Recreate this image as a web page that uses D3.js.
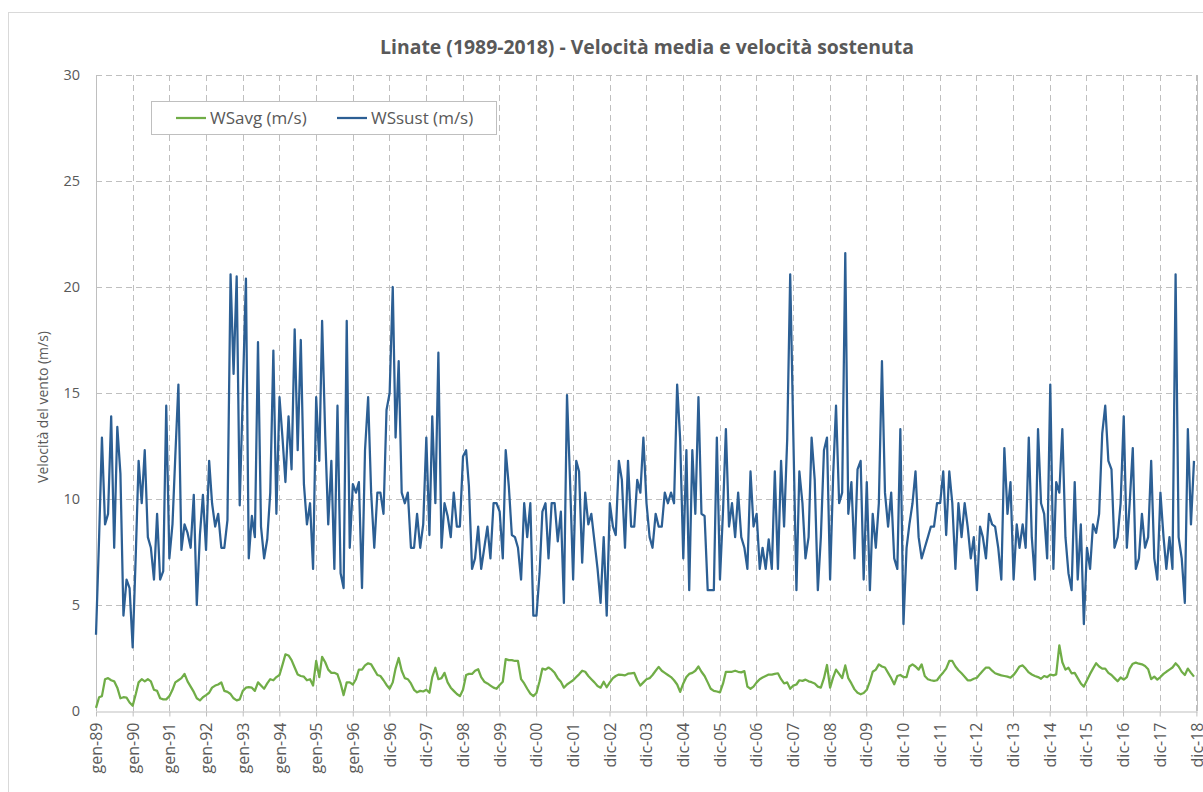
<!DOCTYPE html>
<html>
<head>
<meta charset="utf-8">
<script src="https://cdn.jsdelivr.net/npm/d3@7/dist/d3.min.js"></script>
<style>
  body { margin: 0; background: #fff; }
  svg { display: block; font-family: "Open Sans", Lato, sans-serif; }
</style>
</head>
<body>
<svg id="chart" width="1203" height="792"></svg>
<script>
// ---- DATA ----
const title = "Linate (1989-2018) - Velocità media e velocità sostenuta";
const yTitle = "Velocità del vento (m/s)";
const seriesNames = ["WSavg (m/s)", "WSsust (m/s)"];
const startYear = 1989;
const yTicks = [0, 5, 10, 15, 20, 25, 30];
const xTickLabels = ["gen-89","gen-90","gen-91","gen-92","gen-93","gen-94","gen-95","gen-96",
  "dic-96","dic-97","dic-98","dic-99","dic-00","dic-01","dic-02","dic-03","dic-04","dic-05",
  "dic-06","dic-07","dic-08","dic-09","dic-10","dic-11","dic-12","dic-13","dic-14","dic-15",
  "dic-16","dic-17","dic-18"];

// monthly sustained wind speed (m/s), Jan 1989 .. Dec 2018
const wsSust = [
 3.6,8.2,12.9,8.8,9.3,13.9,7.7,13.4,11.2,4.5,6.2,5.8,
 3.0,7.4,11.8,9.8,12.3,8.2,7.7,6.2,9.3,6.2,6.6,14.4,
 7.2,8.8,12.0,15.4,7.6,8.8,8.4,7.7,10.2,5.0,8.3,10.2,
 7.6,11.8,9.8,8.7,9.3,7.7,7.7,9.0,20.6,15.9,20.5,9.7,
 15.0,20.4,7.2,9.2,8.2,17.4,8.7,7.2,8.1,10.3,17.0,9.3,
 14.8,12.8,10.8,13.9,11.4,18.0,12.3,17.5,10.7,8.8,9.8,6.7,
 14.8,11.8,18.4,13.0,8.8,11.8,6.7,14.4,6.5,5.8,18.4,7.7,
 10.7,10.3,10.8,5.8,12.3,14.8,10.3,7.7,10.3,10.3,9.3,14.2,
 15.0,20.0,12.9,16.5,10.3,9.8,10.3,7.7,7.7,9.3,7.7,8.8,
 12.9,8.3,13.9,9.8,16.9,7.7,9.8,9.2,8.2,10.3,8.7,8.7,
 12.0,12.3,10.6,6.7,7.2,8.7,6.7,7.7,8.7,7.2,9.8,9.8,
 9.4,7.2,12.3,10.6,8.3,8.2,7.7,6.2,9.8,8.2,9.8,4.5,
 4.5,6.5,9.4,9.8,7.2,9.8,9.8,8.0,9.4,5.1,14.9,10.9,
 6.2,11.8,11.3,7.0,10.3,8.8,9.3,8.0,6.7,5.1,8.2,4.5,
 9.8,8.7,8.3,11.8,10.9,7.7,11.8,8.7,8.7,10.9,10.3,12.9,
 9.8,8.2,7.7,9.3,8.7,8.7,10.3,9.8,10.3,9.8,15.4,12.8,
 7.2,12.3,5.7,12.3,9.3,14.8,9.3,9.2,5.7,5.7,5.7,12.9,
 6.2,9.5,13.3,8.7,9.8,8.2,10.3,8.2,7.7,6.7,11.3,8.7,
 9.3,6.7,7.7,6.7,8.1,6.7,11.3,6.7,11.8,8.7,12.8,20.6,
 13.0,5.7,11.3,9.8,7.2,8.2,12.9,10.9,5.7,8.2,12.3,12.9,
 6.2,11.2,14.4,9.8,10.3,21.6,9.3,10.8,7.2,11.4,11.8,6.2,
 10.8,5.7,9.3,7.7,9.8,16.5,10.3,8.7,10.3,7.2,6.7,13.3,
 4.1,7.7,8.8,9.8,11.3,8.2,7.2,7.7,8.2,8.7,8.7,9.8,
 9.8,11.3,8.3,11.3,9.8,6.7,9.8,8.2,9.8,8.7,7.2,8.2,
 5.7,8.7,8.2,7.2,9.3,8.8,8.7,7.7,6.2,12.4,9.3,10.8,
 6.2,8.8,7.7,8.8,7.7,12.9,8.2,6.2,13.3,9.8,9.3,7.2,
 15.4,6.7,10.8,10.3,13.3,8.2,6.5,5.7,10.8,6.2,8.8,4.1,
 7.7,6.7,8.8,8.4,9.3,13.1,14.4,11.8,11.4,7.7,8.2,9.8,
 13.9,7.7,9.8,12.4,6.7,7.2,9.3,7.7,8.2,11.8,7.2,6.2,
 10.3,8.2,6.7,8.2,6.7,20.6,8.2,7.2,5.1,13.3,8.8,11.8
];

// monthly average wind speed (m/s), Jan 1989 .. Dec 2018
const wsAvg = [
 0.15,0.65,0.7,1.5,1.55,1.45,1.4,1.1,0.6,0.65,0.63,0.4,
 0.25,0.8,1.35,1.5,1.4,1.5,1.4,1.0,0.95,0.6,0.55,0.55,
 0.7,1.0,1.35,1.45,1.55,1.75,1.4,1.15,0.9,0.6,0.5,0.65,
 0.75,0.86,1.1,1.2,1.25,1.35,0.95,0.9,0.8,0.6,0.5,0.55,
 0.95,1.1,1.13,1.1,0.95,1.35,1.2,1.05,1.3,1.5,1.45,1.6,
 1.7,2.2,2.67,2.62,2.4,2.05,1.72,1.65,1.62,1.45,1.5,1.2,
 2.36,1.6,2.55,2.3,1.95,1.8,1.8,1.73,1.3,0.75,1.35,1.35,
 1.25,1.5,1.95,1.95,2.15,2.25,2.2,1.95,1.7,1.65,1.45,1.23,
 1.05,1.35,2.0,2.5,1.9,1.55,1.5,1.3,1.0,0.88,0.95,0.92,
 1.0,0.86,1.6,2.04,1.5,1.55,1.8,1.35,1.1,0.95,0.8,0.7,
 1.0,1.7,1.75,1.75,1.9,1.97,1.6,1.38,1.3,1.2,1.1,1.05,
 1.23,1.38,2.45,2.4,2.4,2.36,2.36,1.5,1.3,1.05,0.82,0.7,
 0.85,1.4,2.0,1.95,2.05,1.95,1.8,1.55,1.38,1.1,1.25,1.35,
 1.45,1.6,1.73,1.9,1.85,1.65,1.5,1.35,1.18,1.1,1.38,1.12,
 1.35,1.55,1.65,1.72,1.7,1.68,1.76,1.78,1.8,1.45,1.2,1.35,
 1.5,1.55,1.7,1.9,2.08,1.9,1.8,1.7,1.6,1.45,1.25,0.9,
 1.3,1.6,1.75,1.8,1.9,2.1,1.85,1.65,1.35,1.05,0.95,0.92,
 0.88,1.3,1.85,1.85,1.85,1.9,1.85,1.82,1.88,1.15,1.05,1.15,
 1.35,1.5,1.58,1.65,1.72,1.72,1.75,1.78,1.5,1.3,1.35,1.05,
 1.2,1.25,1.45,1.42,1.48,1.4,1.36,1.3,1.15,1.1,1.55,2.17,
 1.1,1.6,1.95,1.75,1.55,2.15,1.55,1.3,1.02,0.86,0.79,0.85,
 1.0,1.4,1.85,1.95,2.2,2.1,2.05,1.8,1.55,1.26,1.65,1.7,
 1.6,1.6,2.1,2.2,2.1,1.95,2.2,1.65,1.5,1.45,1.42,1.45,
 1.65,1.82,2.0,2.36,2.36,2.1,1.92,1.78,1.62,1.45,1.45,1.52,
 1.57,1.75,1.9,2.05,2.05,1.9,1.78,1.73,1.68,1.65,1.62,1.57,
 1.7,1.9,2.1,2.15,2.0,1.82,1.72,1.65,1.6,1.52,1.65,1.6,
 1.72,1.68,1.73,3.1,2.3,1.95,2.04,1.78,1.8,1.55,1.3,1.15,
 1.45,1.75,2.0,2.25,2.1,2.0,2.0,1.8,1.7,1.55,1.4,1.58,
 1.48,1.6,2.0,2.23,2.28,2.23,2.2,2.12,1.97,1.5,1.62,1.48,
 1.6,1.75,1.85,1.95,2.05,2.25,2.1,1.85,1.7,2.0,1.8,1.62
];

const colors = { avg: "#70ad47", sust: "#2c5f94" };

// ---- LAYOUT ----
const plot = { left: 96, right: 1197, top: 75, bottom: 711 };
const textColor = "#595959";

const svg = d3.select("#chart");

// outer chart border
svg.append("rect").attr("x", 8.5).attr("y", 12.5).attr("width", 1210).attr("height", 800)
  .attr("fill", "#fff").attr("stroke", "#d9d9d9").attr("stroke-width", 1);

const start = new Date(Date.UTC(startYear, 0, 1));
const end = new Date(Date.UTC(startYear + 29, 11, 31));
const dates = wsSust.map((_, i) => new Date(Date.UTC(startYear, i, 1)));
const tickDates = xTickLabels.map((_, k) => d3.utcDay.offset(start, 365 * k));

const x = d3.scaleUtc().domain([start, end]).range([plot.left, plot.right]);
const y = d3.scaleLinear().domain([0, 30]).range([plot.bottom, plot.top]);

// horizontal gridlines
svg.append("g").selectAll("line").data(yTicks.filter(d => d > 0)).join("line")
  .attr("x1", plot.left).attr("x2", plot.right)
  .attr("y1", d => Math.round(y(d)) + 0.5).attr("y2", d => Math.round(y(d)) + 0.5)
  .attr("stroke", "#bfbfbf").attr("stroke-width", 1).attr("stroke-dasharray", "6,4");

// vertical gridlines
svg.append("g").selectAll("line").data(tickDates.slice(1)).join("line")
  .attr("x1", d => Math.round(x(d)) + 0.5).attr("x2", d => Math.round(x(d)) + 0.5)
  .attr("y1", plot.top).attr("y2", plot.bottom)
  .attr("stroke", "#bfbfbf").attr("stroke-width", 1).attr("stroke-dasharray", "6,4");

// plot border (left/right)
svg.append("line").attr("x1", plot.left + 0.5).attr("x2", plot.left + 0.5)
  .attr("y1", plot.top).attr("y2", plot.bottom).attr("stroke", "#bfbfbf");
svg.append("line").attr("x1", plot.right + 0.5).attr("x2", plot.right + 0.5)
  .attr("y1", plot.top).attr("y2", plot.bottom).attr("stroke", "#bfbfbf");

// y axis labels
svg.append("g").selectAll("text").data(yTicks).join("text")
  .attr("x", 80).attr("y", d => y(d)).attr("dy", "0.35em")
  .attr("text-anchor", "end").attr("font-size", 14.5).attr("fill", textColor)
  .text(d => d);

// x axis
const xAxis = d3.axisBottom(x).tickValues(tickDates)
  .tickFormat((d, i) => xTickLabels[i]).tickSize(5).tickSizeOuter(0);
const gx = svg.append("g").attr("transform", `translate(0,${plot.bottom + 0.5})`).call(xAxis);
gx.select(".domain").attr("stroke", "#bfbfbf");
gx.selectAll(".tick line").attr("stroke", "#bfbfbf");
gx.selectAll(".tick text")
  .attr("font-family", "'Open Sans', sans-serif").attr("font-size", 16).attr("fill", textColor)
  .attr("text-anchor", "end")
  .attr("transform", "rotate(-90)")
  .attr("x", -11).attr("y", 0).attr("dy", "0.35em");

// lines
const lineGen = vals => d3.line().x((d, i) => x(dates[i])).y(d => y(d))(vals);
svg.append("path").attr("d", lineGen(wsAvg)).attr("fill", "none")
  .attr("stroke", colors.avg).attr("stroke-width", 2.25).attr("stroke-linejoin", "round");
svg.append("path").attr("d", lineGen(wsSust)).attr("fill", "none")
  .attr("stroke", colors.sust).attr("stroke-width", 2.25).attr("stroke-linejoin", "round");

// title
svg.append("text").attr("x", 647).attr("y", 54).attr("text-anchor", "middle")
  .attr("font-size", 19.4).attr("font-weight", "bold").attr("fill", textColor).text(title);

// y title
svg.append("text").attr("transform", `translate(48,${(plot.top + plot.bottom) / 2 + 14}) rotate(-90)`)
  .attr("text-anchor", "middle").attr("font-size", 14).attr("fill", textColor).text(yTitle);

// legend
const lg = svg.append("g");
lg.append("rect").attr("x", 151.5).attr("y", 101.5).attr("width", 345).attr("height", 33)
  .attr("fill", "#fff").attr("stroke", "#bfbfbf");
const items = [{ name: seriesNames[0], c: colors.avg, x: 176 }, { name: seriesNames[1], c: colors.sust, x: 337 }];
items.forEach(it => {
  lg.append("line").attr("x1", it.x).attr("x2", it.x + 30).attr("y1", 118).attr("y2", 118)
    .attr("stroke", it.c).attr("stroke-width", 2.25);
  lg.append("text").attr("x", it.x + 34).attr("y", 118).attr("dy", "0.35em")
    .attr("font-size", 17).attr("fill", textColor).text(it.name);
});
</script>
</body>
</html>
